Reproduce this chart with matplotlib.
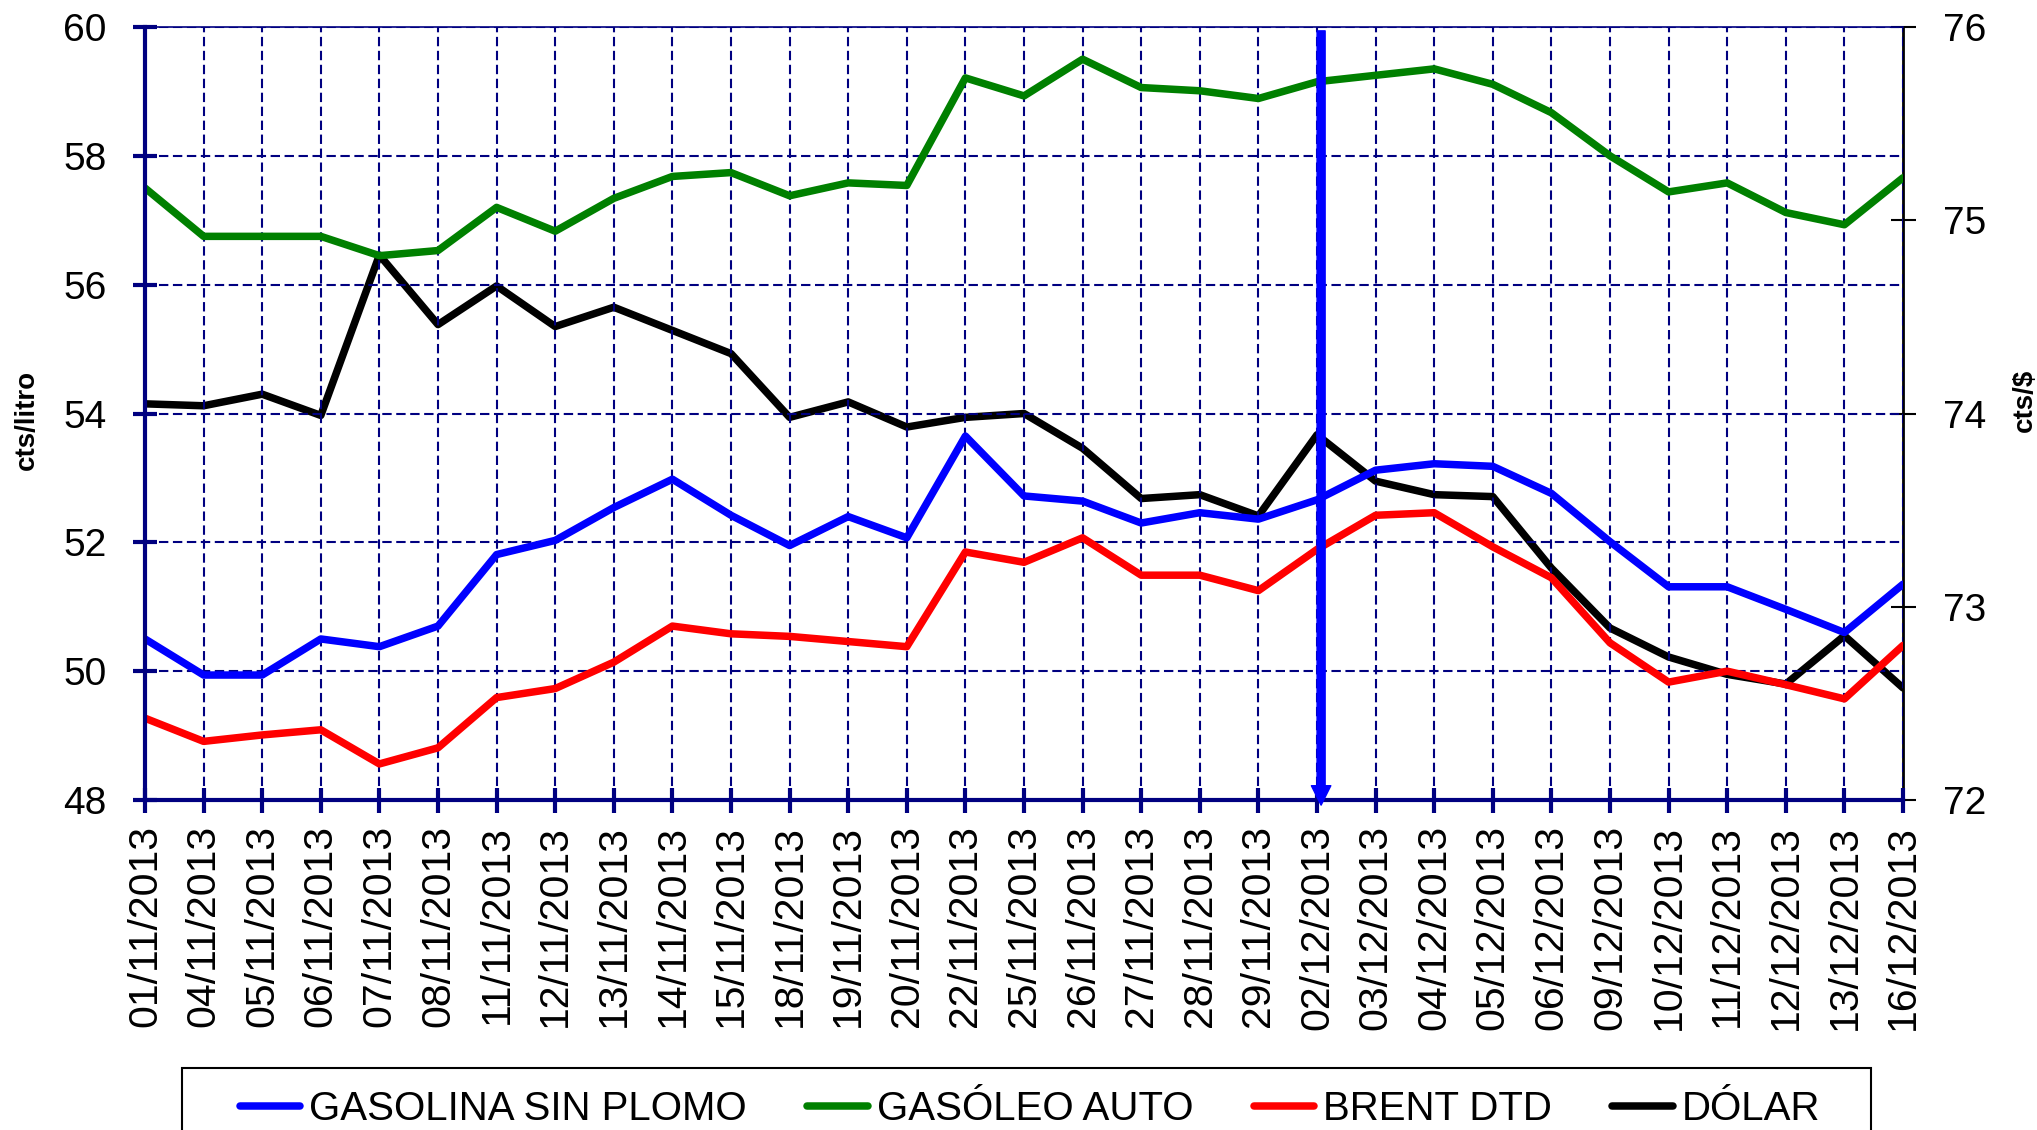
import matplotlib
matplotlib.use("Agg")
import matplotlib.pyplot as plt
import matplotlib.patches as patches
import numpy as np

plt.rcParams['font.family'] = ['Liberation Sans', 'DejaVu Sans']

# fechas (eje de categorias)
fechas = ["01/11/2013", "04/11/2013", "05/11/2013", "06/11/2013", "07/11/2013",
          "08/11/2013", "11/11/2013", "12/11/2013", "13/11/2013", "14/11/2013",
          "15/11/2013", "18/11/2013", "19/11/2013", "20/11/2013", "22/11/2013",
          "25/11/2013", "26/11/2013", "27/11/2013", "28/11/2013", "29/11/2013",
          "02/12/2013", "03/12/2013", "04/12/2013", "05/12/2013", "06/12/2013",
          "09/12/2013", "10/12/2013", "11/12/2013", "12/12/2013", "13/12/2013",
          "16/12/2013"]

# cts/litro
gasolina = [50.50, 49.94, 49.94, 50.50, 50.38, 50.70, 51.81, 52.03, 52.54, 52.98,
            52.42, 51.95, 52.40, 52.07, 53.65, 52.72, 52.64, 52.30, 52.46, 52.36,
            52.66, 53.12, 53.22, 53.18, 52.76, 52.01, 51.31, 51.31, 50.96, 50.60,
            51.35]
gasoleo = [57.50, 56.75, 56.75, 56.75, 56.45, 56.53, 57.20, 56.83, 57.34, 57.68,
           57.74, 57.38, 57.58, 57.54, 59.21, 58.93, 59.50, 59.06, 59.01, 58.89,
           59.15, 59.25, 59.35, 59.11, 58.67, 58.00, 57.44, 57.58, 57.12, 56.93,
           57.66]
brent = [49.27, 48.91, 49.01, 49.09, 48.56, 48.81, 49.59, 49.73, 50.14, 50.70,
         50.58, 50.54, 50.46, 50.38, 51.85, 51.69, 52.07, 51.49, 51.49, 51.25,
         51.89, 52.42, 52.46, 51.93, 51.45, 50.44, 49.83, 50.00, 49.79, 49.57,
         50.40]
# cts/$
dolar = [74.05, 74.04, 74.10, 73.99, 74.82, 74.46, 74.66, 74.45, 74.55, 74.43,
         74.31, 73.98, 74.06, 73.93, 73.98, 74.00, 73.82, 73.56, 73.58, 73.47,
         73.89, 73.65, 73.58, 73.57, 73.20, 72.89, 72.74, 72.65, 72.60, 72.85,
         72.58]

y_left_ticks = [48, 50, 52, 54, 56, 58, 60]
y_right_ticks = [72, 73, 74, 75, 76]
marca_fecha = "02/12/2013"

navy = '#000080'
x = np.arange(len(fechas))

fig = plt.figure(figsize=(20.37, 11.3), dpi=100)
ax = fig.add_axes([145 / 2037, 1 - 800 / 1130, (1903 - 145) / 2037, (800 - 27) / 1130])
ax2 = ax.twinx()

lw = 5.4
l1, = ax.plot(x, gasolina, color='#0000FF', lw=lw, solid_capstyle='round',
              label='GASOLINA SIN PLOMO')
l2, = ax.plot(x, gasoleo, color='#008000', lw=lw, solid_capstyle='round',
              label='GASÓLEO AUTO')
l3, = ax.plot(x, brent, color='#FF0000', lw=lw, solid_capstyle='round',
              label='BRENT DTD')
l4, = ax2.plot(x, dolar, color='black', lw=lw, solid_capstyle='round',
               label='DÓLAR')

ax.set_xlim(0, len(fechas) - 1)
ax.set_ylim(48, 60)
ax2.set_ylim(72, 76)

ax.set_xticks(x)
ax.set_xticklabels(fechas, rotation=90)
ax.set_yticks(y_left_ticks)
ax2.set_yticks(y_right_ticks)

# grid
ax.grid(True, color=navy, lw=1.5, linestyle=(0, (4.5, 2.2)))
ax.set_axisbelow(True)

# ejes
for s in ['left', 'bottom']:
    ax.spines[s].set_color(navy)
    ax.spines[s].set_linewidth(3)
ax.spines['top'].set_color(navy)
ax.spines['top'].set_linewidth(1.2)
ax.spines['right'].set_visible(False)
for s in ['left', 'bottom', 'top']:
    ax2.spines[s].set_visible(False)
ax2.spines['right'].set_color('black')
ax2.spines['right'].set_linewidth(2)

ax.tick_params(axis='y', direction='inout', length=17, width=3, color=navy,
               labelsize=28, pad=19)
ax.tick_params(axis='x', direction='inout', length=18, width=3, color=navy,
               labelsize=29.5, pad=9)
ax2.tick_params(axis='y', direction='inout', length=18, width=1.5, color='black',
                labelsize=28, pad=20)

# flecha de la fecha marcada
xi = fechas.index(marca_fecha) + 0.07
ax.annotate('', xy=(xi, 47.92), xytext=(xi, 59.94),
            arrowprops=dict(width=5.8, headwidth=14, headlength=14,
                            color='#0000FF', shrink=0),
            annotation_clip=False, zorder=10)
ax.set_zorder(ax2.get_zorder() + 1)
ax.patch.set_visible(False)

fig.text(27 / 2037, 1 - 420 / 1130, 'cts/litro', rotation=90, ha='center',
         va='center', fontsize=20, fontweight='bold')
fig.text(2025 / 2037, 1 - 400 / 1130, 'cts/$', rotation=90, ha='center',
         va='center', fontsize=20, fontweight='bold')

# leyenda
fig.legend(handles=[l1, l2, l3, l4], loc='center', ncol=4, frameon=False,
           bbox_to_anchor=(1030 / 2037, 1 - 1109 / 1130), fontsize=29,
           handlelength=1.5, handletextpad=0.22, columnspacing=1.5)
fig.patches.append(patches.Rectangle((182 / 2037, -0.02), (1871 - 182) / 2037,
                                     1 - 1068 / 1130 + 0.02, transform=fig.transFigure,
                                     fill=False, edgecolor='black', lw=1.5))

fig.savefig('out.png', dpi=100)
